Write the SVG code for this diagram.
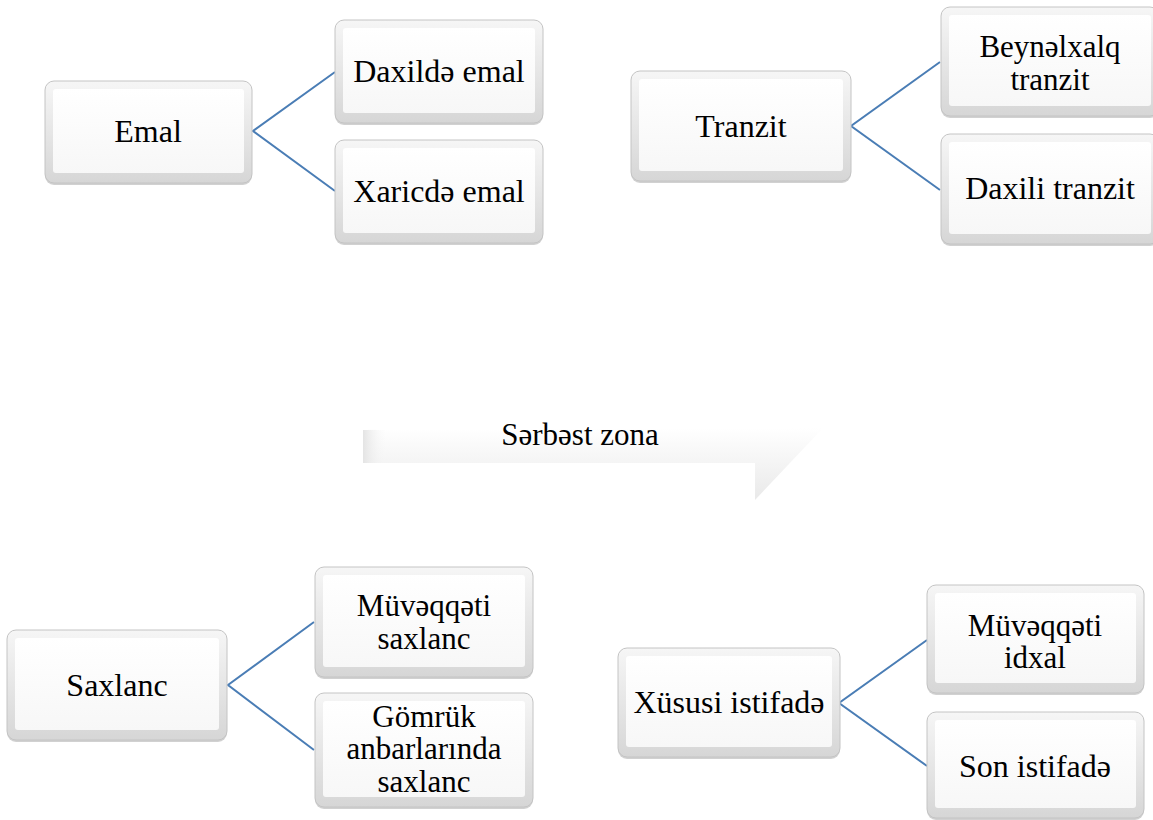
<svg xmlns="http://www.w3.org/2000/svg" width="1153" height="820" viewBox="0 0 1153 820">
  <defs>
    <linearGradient id="edge" x1="0" y1="0" x2="0" y2="1">
      <stop offset="0" stop-color="#f6f6f6"/>
      <stop offset="1" stop-color="#d6d6d6"/>
    </linearGradient>
    <linearGradient id="face" x1="0" y1="0" x2="0" y2="1">
      <stop offset="0" stop-color="#ffffff"/>
      <stop offset="1" stop-color="#f7f7f7"/>
    </linearGradient>
    <linearGradient id="ribbon" x1="0" y1="0" x2="0" y2="1">
      <stop offset="0" stop-color="#ffffff"/>
      <stop offset="1" stop-color="#e9e9e9"/>
    </linearGradient>
    <linearGradient id="ribbonL" x1="0" y1="0" x2="1" y2="0">
      <stop offset="0" stop-color="#e4e4e4"/>
      <stop offset="0.05" stop-color="#f7f7f7" stop-opacity="0"/>
    </linearGradient>
  </defs>
  <style>
    .shadow { fill: #000; fill-opacity: 0.18; }
    .box { fill: url(#edge); stroke: #c4c4c4; stroke-width: 1; }
    .inner { fill: url(#face); }
    .lbl { font-family: "Liberation Serif", "Times New Roman", serif; font-size: 32px; fill: #000; text-anchor: middle; }
    .sm { font-size: 31px; }
    .conn { fill: none; stroke: #4a7db5; stroke-width: 2; }
  </style>
  <rect width="1153" height="820" fill="#ffffff"/>

  <g id="center-arrow">
    <path d="M363,430 L823,428 L755,500 L755,463 L363,463 Z" fill="url(#ribbon)"/>
    <path d="M363,430 L823,428 L755,500 L755,463 L363,463 Z" fill="url(#ribbonL)"/>
    <text class="lbl sm" x="580" y="445">Sərbəst zona</text>
  </g>

  <g id="connectors">
    <path class="conn" d="M335,72 L253,131 L335,191"/>
    <path class="conn" d="M940,62 L851,126 L940,190"/>
    <path class="conn" d="M314,622 L228,685 L314,750"/>
    <path class="conn" d="M927,640 L839,703 L927,766"/>
  </g>

  <g id="emal">
    <rect class="shadow" x="45" y="83" width="207" height="102" rx="9"/>
    <rect class="box" x="45" y="81" width="207" height="102" rx="9"/>
    <rect class="inner" x="53" y="89" width="191" height="84" rx="3"/>
    <text class="lbl" x="148" y="142">Emal</text>
  </g>
  <g id="daxilde-emal">
    <rect class="shadow" x="335" y="22" width="208" height="103" rx="9"/>
    <rect class="box" x="335" y="20" width="208" height="103" rx="9"/>
    <rect class="inner" x="343" y="28" width="192" height="85" rx="3"/>
    <text class="lbl" x="439" y="82">Daxildə emal</text>
  </g>
  <g id="xaricde-emal">
    <rect class="shadow" x="335" y="142" width="208" height="103" rx="9"/>
    <rect class="box" x="335" y="140" width="208" height="103" rx="9"/>
    <rect class="inner" x="343" y="148" width="192" height="85" rx="3"/>
    <text class="lbl" x="439" y="202">Xaricdə emal</text>
  </g>

  <g id="tranzit">
    <rect class="shadow" x="631" y="73" width="220" height="110" rx="9"/>
    <rect class="box" x="631" y="71" width="220" height="110" rx="9"/>
    <rect class="inner" x="639" y="79" width="204" height="92" rx="3"/>
    <text class="lbl" x="741" y="137">Tranzit</text>
  </g>
  <g id="beynelxalq-tranzit">
    <rect class="shadow" x="941" y="9" width="218" height="109" rx="9"/>
    <rect class="box" x="941" y="7" width="218" height="109" rx="9"/>
    <rect class="inner" x="949" y="15" width="202" height="91" rx="3"/>
    <text class="lbl sm" x="1050" y="57">Beynəlxalq</text>
    <text class="lbl sm" x="1050" y="90">tranzit</text>
  </g>
  <g id="daxili-tranzit">
    <rect class="shadow" x="941" y="136" width="218" height="110" rx="9"/>
    <rect class="box" x="941" y="134" width="218" height="110" rx="9"/>
    <rect class="inner" x="949" y="142" width="202" height="92" rx="3"/>
    <text class="lbl" x="1050" y="199">Daxili tranzit</text>
  </g>

  <g id="saxlanc">
    <rect class="shadow" x="7" y="632" width="220" height="110" rx="9"/>
    <rect class="box" x="7" y="630" width="220" height="110" rx="9"/>
    <rect class="inner" x="15" y="638" width="204" height="92" rx="3"/>
    <text class="lbl" x="117" y="696">Saxlanc</text>
  </g>
  <g id="muveqqeti-saxlanc">
    <rect class="shadow" x="315" y="569" width="218" height="110" rx="9"/>
    <rect class="box" x="315" y="567" width="218" height="110" rx="9"/>
    <rect class="inner" x="323" y="575" width="202" height="92" rx="3"/>
    <text class="lbl sm" x="424" y="616">Müvəqqəti</text>
    <text class="lbl sm" x="424" y="649">saxlanc</text>
  </g>
  <g id="gomruk-anbarlarinda-saxlanc">
    <rect class="shadow" x="315" y="695" width="218" height="114" rx="9"/>
    <rect class="box" x="315" y="693" width="218" height="114" rx="9"/>
    <rect class="inner" x="323" y="701" width="202" height="96" rx="3"/>
    <text class="lbl sm" x="424" y="727">Gömrük</text>
    <text class="lbl sm" x="424" y="759">anbarlarında</text>
    <text class="lbl sm" x="424" y="792">saxlanc</text>
  </g>

  <g id="xususi-istifade">
    <rect class="shadow" x="618" y="650" width="222" height="109" rx="9"/>
    <rect class="box" x="618" y="648" width="222" height="109" rx="9"/>
    <rect class="inner" x="626" y="656" width="206" height="91" rx="3"/>
    <text class="lbl" x="729" y="713">Xüsusi istifadə</text>
  </g>
  <g id="muveqqeti-idxal">
    <rect class="shadow" x="927" y="587" width="217" height="108" rx="9"/>
    <rect class="box" x="927" y="585" width="217" height="108" rx="9"/>
    <rect class="inner" x="935" y="593" width="201" height="90" rx="3"/>
    <text class="lbl sm" x="1035" y="636">Müvəqqəti</text>
    <text class="lbl sm" x="1035" y="668">idxal</text>
  </g>
  <g id="son-istifade">
    <rect class="shadow" x="927" y="714" width="217" height="106" rx="9"/>
    <rect class="box" x="927" y="712" width="217" height="106" rx="9"/>
    <rect class="inner" x="935" y="720" width="201" height="88" rx="3"/>
    <text class="lbl" x="1035" y="777">Son istifadə</text>
  </g>
</svg>
